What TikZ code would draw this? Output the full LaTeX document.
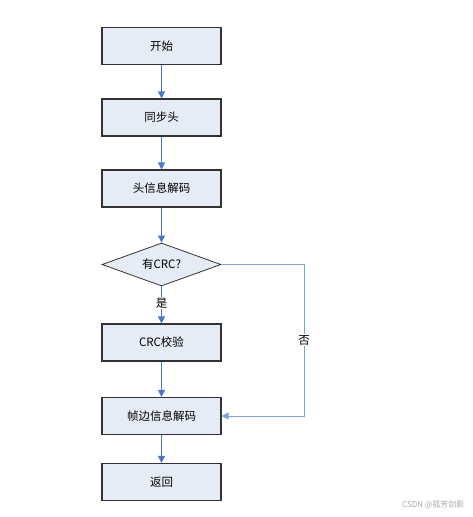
\documentclass[tikz,border=0pt]{standalone}
\usepackage{fontspec}
\setmainfont{Noto Sans CJK SC}
\usetikzlibrary{shapes.geometric,arrows.meta}
\definecolor{boxfill}{HTML}{E6ECF6}
\definecolor{boxdraw}{HTML}{333333}
\definecolor{arr}{HTML}{4A78C4}
\definecolor{arrlight}{HTML}{7FA0D8}
\tikzset{
  x=1pt,y=-1pt,
  procbox/.style={draw=boxdraw,line width=1.1pt,fill=boxfill,minimum width=119pt,minimum height=37pt,font=\fontsize{11.5}{13}\selectfont,inner sep=0pt},
  decision/.style={diamond,draw=boxdraw,line width=0.8pt,fill=boxfill,minimum width=119pt,minimum height=43pt,aspect=2.77,inner sep=0pt},
  flow/.style={draw=arr,line width=0.9pt,-{Triangle[width=7pt,length=7pt]}},
  flowlight/.style={draw=arrlight,line width=0.9pt,-{Triangle[width=7pt,length=7pt]}},
  lbl/.style={fill=white,inner sep=1pt,font=\fontsize{11.5}{13}\selectfont}
}
\begin{document}
\begin{tikzpicture}
\useasboundingbox (0,0) rectangle (472,517);
\node[procbox] (start) at (161.5,46) {开始};
\node[procbox] (sync) at (161.5,117.5) {同步头};
\node[procbox] (head) at (161.5,188.5) {头信息解码};
\node[decision] (crcq) at (161.5,264.5) {};
\node[font=\fontsize{11.5}{13}\selectfont] (crcqt) at (crcq) {有CRC?};
\node[procbox] (crc) at (161.5,342.5) {CRC校验};
\node[procbox] (frame) at (161.5,416) {帧边信息解码};
\node[procbox] (ret) at (161.5,482) {返回};
\coordinate (c1) at (304,264.5);
\coordinate (c2) at (304,416);
\draw[flow] (start) -- (sync);
\draw[flow] (sync) -- (head);
\draw[flow] (head) -- (crcq);
\draw[flow] (crcq) -- node[lbl,pos=0.45] {是} (crc);
\draw[flow] (crc) -- (frame);
\draw[flow] (frame) -- (ret);
\draw[flowlight] (crcq.east) -- (c1) -- node[lbl,pos=0.5] (no) {否} (c2) -- (frame.east);
\node[text=gray!70,font=\fontsize{8}{9}\selectfont,anchor=east] (wm) at (468,505) {CSDN @孤芳剑影};
\end{tikzpicture}
\end{document}
